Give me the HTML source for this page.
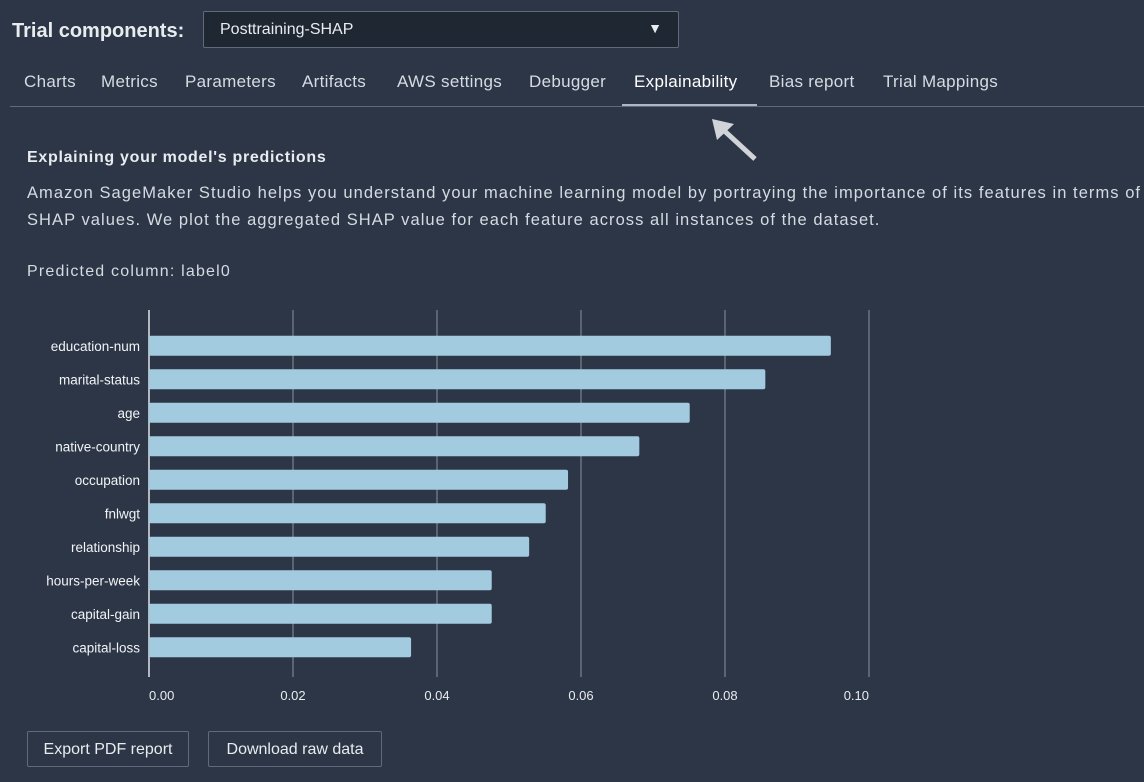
<!DOCTYPE html>
<html><head><meta charset="utf-8"><style>
body{margin:0;width:1144px;height:782px;background:#2c3647;font-family:"Liberation Sans","DejaVu Sans",sans-serif;color:#e9ecef;overflow:hidden;position:relative}
.abs{position:absolute}
.btn{position:absolute;top:731px;height:36px;border:1px solid #5f6b7a;border-radius:2px;font-size:16px;line-height:36px;text-align:center;color:#e9ecef;box-sizing:border-box}
.tab{position:absolute;top:72px;font-size:17px;color:#d5dbe1;letter-spacing:0.3px}
</style></head><body>
<div class="abs" style="left:12px;top:20px;font-size:20px;font-weight:bold;color:#e9ecef">Trial components:</div>
<div class="abs" style="left:203px;top:11px;width:476px;height:37px;background:#1f2733;border:1px solid #5f6b7a;border-radius:2px;box-sizing:border-box">
<span style="position:absolute;left:16px;top:9px;font-size:16px">Posttraining-SHAP</span>
<span style="position:absolute;right:16px;top:8px;font-size:14px">▼</span></div>
<div class="tab" style="left:24px">Charts</div>
<div class="tab" style="left:101px">Metrics</div>
<div class="tab" style="left:185px">Parameters</div>
<div class="tab" style="left:302px">Artifacts</div>
<div class="tab" style="left:397px">AWS settings</div>
<div class="tab" style="left:529px">Debugger</div>
<div class="tab" style="left:634px;color:#fff">Explainability</div>
<div class="tab" style="left:769px">Bias report</div>
<div class="tab" style="left:883px">Trial Mappings</div>
<div class="abs" style="left:10px;top:106px;width:1134px;height:1px;background:#5f6b7a"></div>
<div class="abs" style="left:622px;top:104px;width:135px;height:2px;background:#aab7c4"></div>
<svg class="abs" style="left:708px;top:116px" width="55" height="50"><line x1="47" y1="43" x2="10" y2="9" stroke="#d0d4d8" stroke-width="5"/><polygon points="4,3 26,8 9,24" fill="#d0d4d8"/></svg>
<div class="abs" style="left:27px;top:149px;font-size:16px;font-weight:bold;letter-spacing:0.7px">Explaining your model's predictions</div>
<div class="abs" style="left:27px;top:180px;font-size:16.5px;line-height:27px;width:1130px;color:#d5dbe1;letter-spacing:1.05px;white-space:nowrap">Amazon SageMaker Studio helps you understand your machine learning model by portraying the importance of its features in terms of<br>SHAP values. We plot the aggregated SHAP value for each feature across all instances of the dataset.</div>
<div class="abs" style="left:27px;top:263px;font-size:16px;color:#d5dbe1;letter-spacing:1.2px">Predicted column: label0</div>
<svg id="chart" class="abs" style="left:0;top:0" width="1144" height="782"></svg>
<div class="btn" style="left:27px;width:162px">Export PDF report</div>
<div class="btn" style="left:208px;width:174px">Download raw data</div>
<script>
const features=["education-num","marital-status","age","native-country","occupation","fnlwgt","relationship","hours-per-week","capital-gain","capital-loss"];
const shapValues=[0.0947,0.0856,0.0751,0.0681,0.0582,0.0551,0.0528,0.0476,0.0476,0.0364];
const ticks=[0,0.02,0.04,0.06,0.08,0.10];
const tickLabels=["0.00","0.02","0.04","0.06","0.08","0.10"];
const NS="http://www.w3.org/2000/svg";
const svg=document.getElementById('chart');
const x0=149,xScale=7200,top0=329,step=33.5,barH=20,gTop=310,gBot=677;
const X=v=>x0+v*xScale, Y=i=>top0+i*step+(step-barH)/2;
function mk(t,a){const e=document.createElementNS(NS,t);for(const k in a)e.setAttribute(k,a[k]);svg.appendChild(e);return e;}
ticks.forEach((t,i)=>{
 const l=mk('line',{x1:X(t),x2:X(t),y1:gTop,y2:gBot,stroke:i==0?'#e0e4e8':'#8a939e','stroke-width':i==0?1.5:1});
 
 
 const anchor=i==0?'start':(i==ticks.length-1?'end':'middle');
 const tx=mk('text',{x:X(t),y:700,'text-anchor':anchor,'font-size':13,fill:'#e9ecef'});
 tx.textContent=tickLabels[i];
 
 
});
features.forEach((f,i)=>{
 const r=mk('rect',{x:x0,y:Y(i),width:X(shapValues[i])-x0,height:barH,rx:2,fill:'#a3cbe0'});
 
 
 const t=mk('text',{x:140,y:Y(i)+barH/2+5,'text-anchor':'end','font-size':13.5,fill:'#f2f4f6'});
 t.textContent=f;
 
 
});
</script>
</body></html>
